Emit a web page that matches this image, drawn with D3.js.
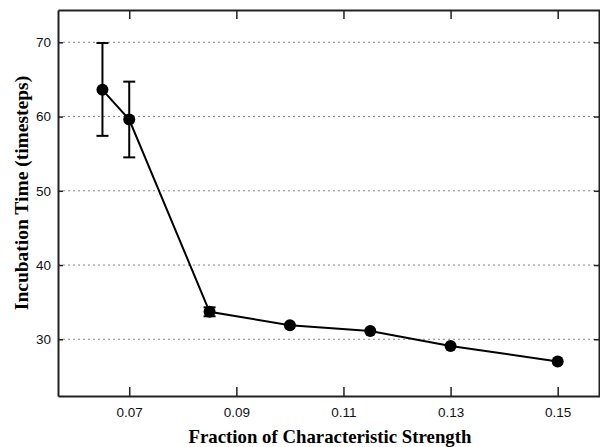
<!DOCTYPE html>
<html><head><meta charset="utf-8">
<script src="https://cdn.jsdelivr.net/npm/d3@7"></script>
<style>body{margin:0;background:#fff}svg{display:block}</style>
</head><body>
<svg id="c" width="600" height="447"></svg>
<script>
const strength = [0.065, 0.07, 0.085, 0.10, 0.115, 0.13, 0.15];
const incubation = [63.6, 59.6, 33.7, 31.9, 31.1, 29.1, 27.0];
const errLow = [57.4, 54.5, 33.1, null, null, null, null];
const errHigh = [69.9, 64.7, 34.3, null, null, null, null];
const xTicks = [0.07, 0.09, 0.11, 0.13, 0.15];
const yTicks = [30, 40, 50, 60, 70];

const svg = d3.select("#c");
const L = 58, R = 600, T = 10, B = 396;
const x = d3.scaleLinear().domain([0.0567, 0.1579]).range([L, R]);
const y = d3.scaleLinear().domain([22.36, 74.35]).range([B, T]);

// grid
svg.append("g").selectAll("line").data(yTicks).join("line")
  .attr("x1", L).attr("x2", R).attr("y1", d => y(d)).attr("y2", d => y(d))
  .attr("stroke", "#888").attr("stroke-width", 1).attr("stroke-dasharray", "2,3");

// axes
const ax = svg.append("g").attr("transform", `translate(0,${B})`)
  .call(d3.axisBottom(x).tickValues(xTicks).tickFormat(d3.format(".2f")).tickSizeInner(-9).tickSizeOuter(0).tickPadding(11.5));
const axTop = svg.append("g").attr("transform", `translate(0,${T})`)
  .call(d3.axisTop(x).tickValues(xTicks).tickFormat("").tickSizeInner(-9).tickSizeOuter(0));
const ay = svg.append("g").attr("transform", `translate(${L},0)`)
  .call(d3.axisLeft(y).tickValues(yTicks).tickSizeInner(-5).tickSizeOuter(0).tickPadding(7));
const ayR = svg.append("g").attr("transform", `translate(${R - 1},0)`)
  .call(d3.axisRight(y).tickValues(yTicks).tickFormat("").tickSizeInner(-5).tickSizeOuter(0));
[ax, axTop, ay, ayR].forEach(g => {
  g.select(".domain").attr("stroke", "#222").attr("stroke-width", 2);
  g.selectAll(".tick line").attr("stroke", "#222").attr("stroke-width", 1.5);
  g.selectAll("text").attr("font-family", "Liberation Sans, Arial, sans-serif").attr("font-size", 13.5).attr("fill", "#111");
});

// line
const pts = strength.map((s, i) => ({s, v: incubation[i], lo: errLow[i], hi: errHigh[i]}));
svg.append("path").datum(pts)
  .attr("d", d3.line().x(d => x(d.s)).y(d => y(d.v)))
  .attr("fill", "none").attr("stroke", "#000").attr("stroke-width", 2);

// error bars
const eb = svg.append("g").selectAll("g").data(pts.filter(d => d.lo != null)).join("g");
eb.append("line").attr("x1", d => x(d.s)).attr("x2", d => x(d.s))
  .attr("y1", d => y(d.lo)).attr("y2", d => y(d.hi)).attr("stroke", "#000").attr("stroke-width", 2);
eb.append("line").attr("x1", d => x(d.s) - 6).attr("x2", d => x(d.s) + 6)
  .attr("y1", d => y(d.lo)).attr("y2", d => y(d.lo)).attr("stroke", "#000").attr("stroke-width", 2);
eb.append("line").attr("x1", d => x(d.s) - 6).attr("x2", d => x(d.s) + 6)
  .attr("y1", d => y(d.hi)).attr("y2", d => y(d.hi)).attr("stroke", "#000").attr("stroke-width", 2);

// markers
svg.append("g").selectAll("circle").data(pts).join("circle")
  .attr("cx", d => x(d.s)).attr("cy", d => y(d.v)).attr("r", 6).attr("fill", "#000");

// labels
svg.append("text").attr("x", 330).attr("y", 443).attr("text-anchor", "middle")
  .attr("font-family", "Liberation Serif, Times New Roman, serif").attr("font-weight", "bold").attr("font-size", 18.8)
  .text("Fraction of Characteristic Strength");
svg.append("text").attr("transform", "translate(28,193) rotate(-90)").attr("text-anchor", "middle")
  .attr("font-family", "Liberation Serif, Times New Roman, serif").attr("font-weight", "bold").attr("font-size", 19.5)
  .text("Incubation Time (timesteps)");
</script>
</body></html>
